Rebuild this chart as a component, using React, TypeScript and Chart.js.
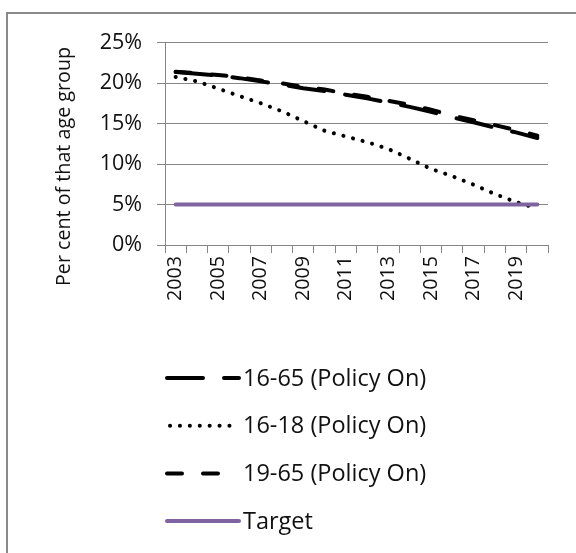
import React, { useEffect, useRef } from "react";
import { Chart, registerables } from "chart.js";

Chart.register(...registerables);

const years = ["2003", "2004", "2005", "2006", "2007", "2008", "2009", "2010", "2011", "2012", "2013", "2014", "2015", "2016", "2017", "2018", "2019", "2020"];
const shownYearLabels = ["2003", "2005", "2007", "2009", "2011", "2013", "2015", "2017", "2019"];
const yTickValues = [0, 5, 10, 15, 20, 25];

const series1665 = [21.35, 21.15, 20.9, 20.6, 20.2, 19.8, 19.35, 19.0, 18.55, 18.1, 17.6, 17.05, 16.45, 15.75, 15.15, 14.5, 13.9, 13.2];
const series1618 = [20.75, 20.2, 19.3, 18.4, 17.5, 16.5, 15.3, 14.1, 13.4, 12.7, 11.85, 10.65, 9.4, 8.5, 7.45, 6.3, 5.3, 4.5];
const series1965 = [21.4, 21.2, 21.0, 20.7, 20.3, 19.95, 19.5, 19.2, 18.7, 18.3, 17.8, 17.3, 16.7, 16.0, 15.4, 14.8, 14.2, 13.5];
const seriesTarget = [5, 5, 5, 5, 5, 5, 5, 5, 5, 5, 5, 5, 5, 5, 5, 5, 5, 5];

const seriesNames = ["16-65 (Policy On)", "16-18 (Policy On)", "19-65 (Policy On)", "Target"];
const yTitle = "Per cent of that age group";

const FONT = "'Open Sans'";
const TEXT = "#111111";
const GRID = "#868686";
const FRAME = "#8a8a8a";
const PURPLE = "#8064A2";

const W = 576;
const H = 553;

const framePlugin = {
  id: "frame",
  beforeDraw(chart: any) {
    const { ctx } = chart;
    ctx.save();
    ctx.fillStyle = "#ffffff";
    ctx.fillRect(0, 0, W, H);
    ctx.strokeStyle = FRAME;
    ctx.lineWidth = 2;
    ctx.beginPath();
    ctx.moveTo(7, H + 5);
    ctx.lineTo(7, 13);
    ctx.lineTo(W + 5, 13);
    ctx.stroke();
    ctx.restore();
  },
};

const extrasPlugin = {
  id: "extras",
  afterDraw(chart: any) {
    const { ctx, chartArea } = chart;
    ctx.save();
    ctx.fillStyle = TEXT;
    // y axis title
    ctx.save();
    ctx.font = `19.7px ${FONT}`;
    ctx.translate(chartArea.left - 101, chartArea.bottom - 78.5);
    ctx.rotate(-Math.PI / 2);
    ctx.textAlign = "center";
    ctx.textBaseline = "middle";
    ctx.fillText(yTitle, 0, 0);
    ctx.restore();
    // legend
    chart.data.datasets.forEach((ds: any, i: number) => {
      const y = chartArea.bottom + 133 + i * 47.7;
      const x0 = chartArea.left + 2;
      const dotted = i === 1;
      ctx.save();
      ctx.strokeStyle = ds.borderColor;
      ctx.lineWidth = ds.borderWidth;
      ctx.lineCap = ds.borderCapStyle || "butt";
      ctx.setLineDash(ds.borderDash || []);
      ctx.beginPath();
      ctx.moveTo(x0 + (dotted ? 3 : 0), y);
      ctx.lineTo(x0 + (dotted ? 66 : 72), y);
      ctx.stroke();
      ctx.restore();
      ctx.font = `23.5px ${FONT}`;
      ctx.textAlign = "left";
      ctx.textBaseline = "middle";
      ctx.fillStyle = TEXT;
      ctx.fillText(ds.label, chartArea.left + 78, y + 1);
    });
    ctx.restore();
  },
};

export default function App() {
  const ref = useRef<HTMLCanvasElement>(null);
  useEffect(() => {
    if (!ref.current) return;
    document.body.style.overflow = "hidden";
    const chart = new Chart(ref.current, {
      type: "line",
      data: {
        labels: years,
        datasets: [
          { label: seriesNames[0], data: series1665, borderColor: "#000", borderWidth: 4, borderDash: [36, 21], borderCapStyle: "round", pointRadius: 0, order: 3, fill: false } as any,
          { label: seriesNames[1], data: series1618, borderColor: "#000", borderWidth: 4, borderDash: [0.1, 9.8], borderCapStyle: "round", pointRadius: 0, order: 2, fill: false },
          { label: seriesNames[2], data: series1965, borderColor: "#000", borderWidth: 4, borderDash: [15, 21], borderCapStyle: "round", pointRadius: 0, order: 1, fill: false },
          { label: seriesNames[3], data: seriesTarget, borderColor: PURPLE, borderWidth: 4, borderCapStyle: "round", pointRadius: 0, order: 0, fill: false },
        ],
      },
      options: {
        responsive: false,
        animation: false,
        layout: { padding: { left: 0, right: 28, top: 42.5, bottom: 238 } },
        plugins: { legend: { display: false }, tooltip: { enabled: false } },
        scales: {
          x: {
            type: "category",
            offset: true,
            grid: { offset: true, drawOnChartArea: false, color: GRID, tickLength: 8, lineWidth: 1 },
            border: { color: GRID, width: 1 },
            ticks: {
              autoSkip: false,
              maxRotation: 90,
              minRotation: 90,
              padding: 3,
              color: TEXT,
              font: { family: FONT, size: 19.7 },
              callback: function (this: any, v: any) {
                const lbl = years[v as number];
                return shownYearLabels.includes(lbl) ? lbl : "";
              },
            },
            afterFit: (s: any) => { s.height = 70; },
          },
          y: {
            min: 0,
            max: 25,
            grid: { color: GRID, tickLength: 8, lineWidth: 1 },
            border: { color: GRID, width: 1 },
            afterBuildTicks: (s: any) => { s.ticks = yTickValues.map((v) => ({ value: v })); },
            ticks: {
              padding: 15,
              color: TEXT,
              font: { family: FONT, size: 21.5 },
              callback: (v: any) => `${v}%`,
            },
            afterFit: (s: any) => { s.width = 165; },
          },
        },
      },
      plugins: [framePlugin, extrasPlugin],
    });
    return () => chart.destroy();
  }, []);

  return (
    <div style={{ position: "fixed", left: 0, top: 0, width: W, height: H }}>
      <canvas ref={ref} width={W} height={H} style={{ display: "block", width: W, height: H }} />
    </div>
  );
}
